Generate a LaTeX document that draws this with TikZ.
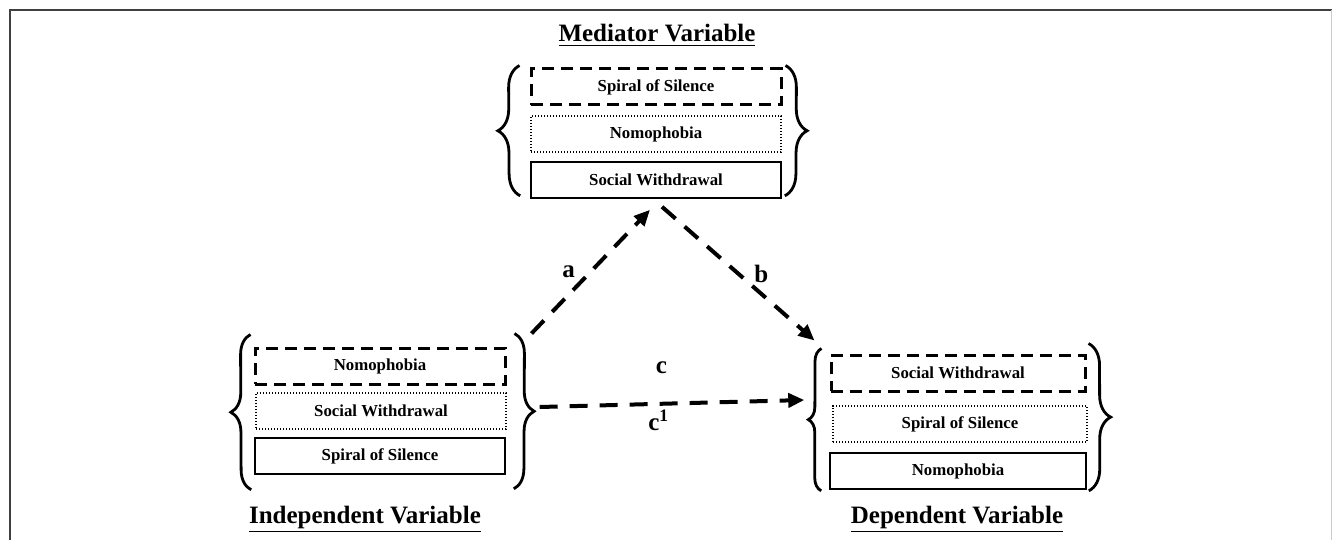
\documentclass[tikz,border=0pt]{standalone}
\usepackage{fontspec}
\setmainfont{Liberation Serif}
\usetikzlibrary{positioning, calc, arrows.meta, decorations.pathreplacing}

\tikzset{
  varbox/.style={minimum width=125pt, minimum height=18pt, inner sep=0pt,
    font=\fontsize{8.4}{10}\selectfont\bfseries},
  dashbox/.style={varbox, draw, line width=1.5pt, dash pattern=on 6pt off 3.5pt},
  dotbox/.style={varbox, draw, line width=0.7pt, dash pattern=on 0.6pt off 0.9pt},
  plainbox/.style={varbox, draw, line width=0.8pt},
  grpbrace/.style={decorate, decoration={brace, amplitude=#1}, line width=1.4pt},
  grpbrace/.default=10pt,
  vartitle/.style={font=\fontsize{12.5}{15}\selectfont\bfseries, anchor=base},
  effect/.style={line width=2pt, dash pattern=on 9pt off 6pt,
    -{Triangle[length=8pt, width=7pt]}},
  pathlbl/.style={font=\fontsize{12.5}{15}\selectfont\bfseries, inner sep=0pt}
}

\begin{document}
\begin{tikzpicture}[x=0.5pt, y=-0.5pt]
  \useasboundingbox (0,0) rectangle (1332,540);
  % frame
  \draw[line width=1pt, black!75] (9.5,540) -- (9.5,10.5) -- (1332,10.5);
  \draw[line width=0.5pt, black!20] (1331,10.5) -- (1331,540);

  % mediator
  \node[vartitle] (medtitle) at (657,42) {\underline{Mediator Variable}};
  \node[dashbox] (med1) at (656,87) {Spiral of Silence};
  \node[dotbox] (med2) at (656,134) {Nomophobia};
  \node[plainbox] (med3) at (656,180) {Social Withdrawal};
  \draw[grpbrace=11pt] ($(med3.south west)+(-10,-3)$) -- ($(med1.north west)+(-10,-2)$);
  \draw[grpbrace=11pt] ($(med1.north east)+(3,-2)$) -- ($(med3.south east)+(3,-3)$);

  % independent
  \node[dashbox] (ind1) at (380,366) {Nomophobia};
  \node[dotbox] (ind2) at (381,411) {Social Withdrawal};
  \node[plainbox] (ind3) at (380,456) {Spiral of Silence};
  \node[vartitle] (indtitle) at (365,523) {\underline{Independent Variable}};
  \draw[grpbrace] ($(ind3.south west)+(-3,15)$) -- ($(ind1.north west)+(-3,-12)$);
  \draw[grpbrace] ($(ind1.north east)+(8,-13)$) -- ($(ind3.south east)+(8,14)$);

  % dependent
  \node[dashbox, minimum width=127pt] (dep1) at (958,373) {Social Withdrawal};
  \node[dotbox, minimum width=127pt] (dep2) at (960,424) {Spiral of Silence};
  \node[plainbox, minimum width=128pt] (dep3) at (958,471) {Nomophobia};
  \node[vartitle] (deptitle) at (957,523) {\underline{Dependent Variable}};
  \draw[grpbrace=6.5pt] ($(dep3.south west)+(-8,1)$) -- ($(dep1.north west)+(-8,-5)$);
  \draw[grpbrace=11pt] ($(dep1.north east)+(2,-10)$) -- ($(dep3.south east)+(2,1)$);

  % paths
  \draw[effect] ($(ind1.north east)+(25,-13)$) -- ($(med3.south)+(-6,11)$)
    node[pathlbl, midway, left=7pt] {a};
  \draw[effect] ($(med3.south)+(6,8)$) -- ($(dep1.north west)+(-15,-13)$)
    node[pathlbl, midway, right=7pt] {b};
  \draw[effect] ($(ind2.east)+(33,-4)$) -- ($(dep2.west)+(-28,-24)$)
    node[pathlbl, pos=0.46, above=14pt] {c}
    node[pathlbl, pos=0.45, below=2pt] {c\textsuperscript{1}};
\end{tikzpicture}
\end{document}
